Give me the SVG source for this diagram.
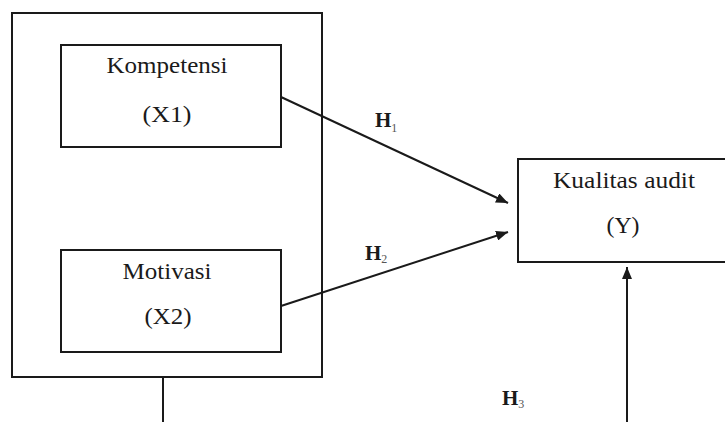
<svg xmlns="http://www.w3.org/2000/svg" width="725" height="422" viewBox="0 0 725 422">
<defs>
<style>
.box{fill:#fff;stroke:#1a1a1a;stroke-width:2}
.frame{fill:none;stroke:#1a1a1a;stroke-width:2}
.lbl{font-family:"Liberation Serif","Times New Roman",serif;font-size:23px;fill:#1a1a1a;text-anchor:middle}
.h{font-family:"Liberation Serif","Times New Roman",serif;font-size:21px;font-weight:bold;fill:#1a1a1a}
.sub{font-size:12px;font-weight:normal;fill:#555}
.conn{stroke:#1a1a1a;stroke-width:2;fill:none}
</style>
<marker id="arr" markerWidth="12" markerHeight="10" refX="12" refY="5" orient="auto" markerUnits="userSpaceOnUse">
<path d="M0,0 L12,5 L0,10 Z" fill="#1a1a1a"/>
</marker>
</defs>
<rect width="725" height="422" fill="#fff"/>
<g id="frame">
<rect class="frame" x="12" y="13" width="310" height="364"/>
</g>
<g id="kompetensi">
<rect class="box" x="61" y="45" width="220" height="102"/>
<text class="lbl" x="167" y="73" textLength="121" lengthAdjust="spacingAndGlyphs">Kompetensi</text>
<text class="lbl" x="167" y="122" textLength="49" lengthAdjust="spacingAndGlyphs">(X1)</text>
</g>
<g id="motivasi">
<rect class="box" x="61" y="250" width="220" height="102"/>
<text class="lbl" x="167" y="279" textLength="89" lengthAdjust="spacingAndGlyphs">Motivasi</text>
<text class="lbl" x="168" y="324" textLength="47" lengthAdjust="spacingAndGlyphs">(X2)</text>
</g>
<g id="kualitas">
<rect class="box" x="518" y="159" width="215" height="103"/>
<text class="lbl" x="624" y="188" textLength="142" lengthAdjust="spacingAndGlyphs">Kualitas audit</text>
<text class="lbl" x="623" y="233" textLength="33" lengthAdjust="spacingAndGlyphs">(Y)</text>
</g>
<g id="connectors">
<line class="conn" x1="281" y1="97" x2="508" y2="203" marker-end="url(#arr)"/>
<line class="conn" x1="281" y1="306" x2="508" y2="232" marker-end="url(#arr)"/>
<line class="conn" x1="627" y1="422" x2="627" y2="267" marker-end="url(#arr)"/>
<line class="conn" x1="163" y1="377" x2="163" y2="422"/>
</g>
<g id="labels">
<text class="h" x="375" y="127">H<tspan class="sub" dy="5">1</tspan></text>
<text class="h" x="365" y="260">H<tspan class="sub" dy="3">2</tspan></text>
<text class="h" x="502" y="405">H<tspan class="sub" dy="3">3</tspan></text>
</g>
</svg>
